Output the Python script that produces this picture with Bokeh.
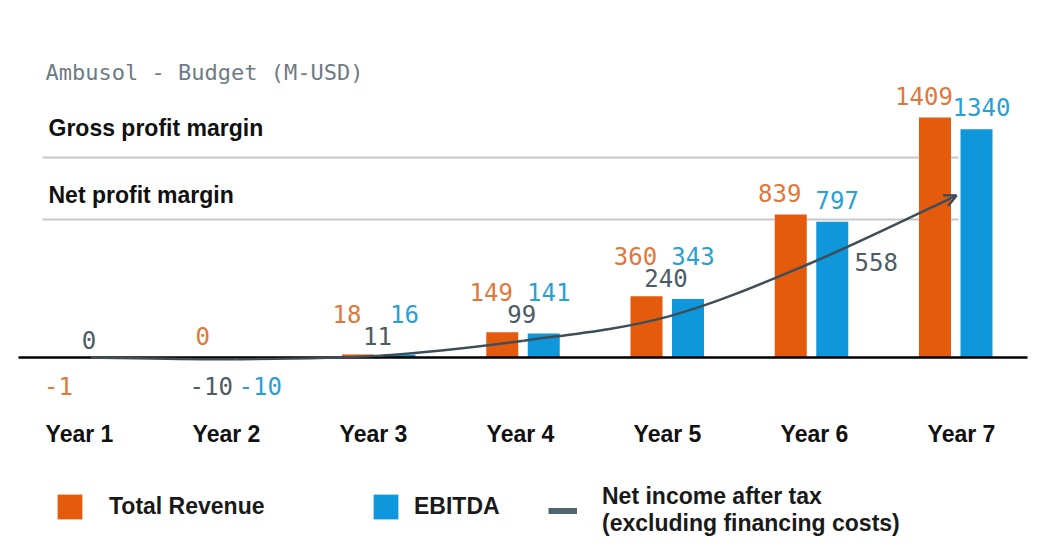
import numpy as np
from bokeh.plotting import figure
from bokeh.models import Range1d, ColumnDataSource, Legend, LegendItem, Arrow, OpenHead
from bokeh.core.properties import value
from bokeh.embed import file_html
from bokeh.resources import INLINE

# ---------------- data ----------------
years = ["Year 1", "Year 2", "Year 3", "Year 4", "Year 5", "Year 6", "Year 7"]
revenue = [-1, 0, 18, 149, 360, 839, 1409]
ebitda = [np.nan, -10, 16, 141, 343, 797, 1340]
net_income = [0, -10, 11, 99, 240, 558, 951]
net_labelled = [True, True, True, True, True, True, False]
net_label_side = ["above", "below", "above", "above", "above", "right", "none"]

title_text = "Ambusol - Budget (M-USD)"
band_labels = ["Gross profit margin", "Net profit margin"]
legend_labels = ["Total Revenue", "EBITDA",
                 "Net income after tax\n(excluding financing costs)"]

# ---------------- style ----------------
ORANGE = "#E55B0E"
BLUE = "#0E97DB"
ORANGE_TXT = "#E2773A"
BLUE_TXT = "#2A9FD6"
GRAY_TXT = "#4D5B66"
CURVE = "#3E4E58"
DASH = "#4F6570"
TITLE = "#6E7B85"
BAND = "#C8C8C8"
MONO = "DejaVu Sans Mono"
SANS = "Liberation Sans"

W, H = 1032, 541
GX = 144.25   # px per year group
X0 = 90.5     # px (from left) of first group centre
ZY = 357.0    # px (from top) of the zero line
SY = 0.1703   # px per M-USD


def xd(px):
    return (px - X0) / GX


def yd(py):
    return (ZY - py) / SY


def dxd(px):
    return px / GX


p = figure(width=W, height=H, x_range=Range1d(xd(0), xd(W)),
           y_range=Range1d(yd(H), yd(0)), output_backend="svg",
           toolbar_location=None, x_axis_location=None, y_axis_location=None,
           min_border=0, outline_line_color=None,
           background_fill_color="white", border_fill_color="white")
p.grid.visible = False

idx = np.arange(len(years), dtype=float)
BW = dxd(32)
OFF_R = -21.5
OFF_E = 20.0

# band lines + texts
p.segment(x0=[xd(42)] * 2, x1=[xd(958)] * 2, y0=[yd(157), yd(219)],
          y1=[yd(157), yd(219)], line_color=BAND, line_width=2)
p.text(x=[xd(48)] * 2, y=[yd(127), yd(194)], text=band_labels,
       text_font=value(SANS), text_font_style="bold", text_font_size="23px",
       text_color="#111111", text_align="left", text_baseline="middle")

# title
p.text(x=[xd(45)], y=[yd(72)], text=[title_text], text_font=value(MONO),
       text_font_size="22px", text_color=TITLE, text_align="left",
       text_baseline="middle")

# bars
r_rev = p.vbar(x=idx + dxd(OFF_R), top=revenue, bottom=0, width=BW,
               fill_color=ORANGE, line_color=None)
r_ebi = p.vbar(x=idx + dxd(OFF_E), top=ebitda, bottom=0, width=BW,
               fill_color=BLUE, line_color=None)

# zero line
p.segment(x0=[xd(18)], x1=[xd(1027)], y0=[0], y1=[0], line_color="black",
          line_width=2.5)

# net income smooth curve (Catmull-Rom -> bezier)
nx = idx
ny = np.array(net_income, dtype=float)
n = len(nx)
bx0, by0, bx1, by1, cx0, cy0, cx1, cy1 = ([] for _ in range(8))
for i in range(n - 1):
    a = max(i - 1, 0)
    d = min(i + 2, n - 1)
    bx0.append(nx[i]); by0.append(ny[i])
    bx1.append(nx[i + 1]); by1.append(ny[i + 1])
    cx0.append(nx[i] + (nx[i + 1] - nx[a]) / 6)
    cy0.append(ny[i] + (ny[i + 1] - ny[a]) / 6)
    cx1.append(nx[i + 1] - (nx[d] - nx[i]) / 6)
    cy1.append(ny[i + 1] - (ny[d] - ny[i]) / 6)
p.bezier(x0=bx0, y0=by0, x1=bx1, y1=by1, cx0=cx0, cy0=cy0, cx1=cx1, cy1=cy1,
         line_color=CURVE, line_width=2.5)
p.add_layout(Arrow(end=OpenHead(size=12, line_color=CURVE, line_width=2.5),
                   x_start=cx1[-1], y_start=cy1[-1], x_end=nx[-1], y_end=ny[-1],
                   line_color=None))

# value labels
lx, ly, lt, lc = [], [], [], []
for i in range(n):
    c = X0 + GX * i
    r = revenue[i]
    e = ebitda[i]
    v = net_income[i]
    tops = [max(r, 0)]
    if not np.isnan(e):
        tops.append(max(e, 0))
    bar_top = ZY - max(tops) * SY
    side = net_label_side[i]
    net_y = None
    if net_labelled[i]:
        if side == "above":
            net_y = bar_top - 18
            lx.append(c - 2)
        elif side == "below":
            net_y = ZY + 28
            lx.append(c - 24)
        else:
            net_y = ZY - v * SY
            lx.append(c + 64)
        ly.append(net_y); lt.append(str(v)); lc.append(GRAY_TXT)
    for val, off, col in ((r, OFF_R - 11, ORANGE_TXT), (e, OFF_E + 5, BLUE_TXT)):
        if np.isnan(val):
            continue
        if val < 0:
            y = ZY + 28
        elif side == "above":
            y = net_y - 22
        else:
            y = ZY - val * SY - 22
        lx.append(c + off); ly.append(y); lt.append(str(int(val))); lc.append(col)

src = ColumnDataSource(dict(x=[xd(v) for v in lx], y=[yd(v) for v in ly],
                            text=lt, color=lc))
p.text(x="x", y="y", text="text", text_color="color", source=src,
       text_font=value(MONO), text_font_size="24px", text_align="center",
       text_baseline="middle")

# year labels
yl_x = [xd(X0 + GX * i - 11.5 + 2.75 * i) for i in range(n)]
p.text(x=yl_x, y=[yd(433)] * n, text=years, text_font=value(SANS),
       text_font_style="bold", text_font_size="23px", text_color="#111111",
       text_align="center", text_baseline="middle")

# legend
r_leg_line = p.line(x=[np.nan, np.nan], y=[np.nan, np.nan], line_color=DASH,
                    line_width=6)


def make_legend(label, rend, loc, gw, gh, standoff):
    leg = Legend(items=[LegendItem(label=label, renderers=[rend])],
                 location=loc, orientation="horizontal", glyph_width=gw,
                 glyph_height=gh, label_standoff=standoff, padding=0,
                 margin=0, spacing=0, border_line_color=None,
                 background_fill_alpha=0, label_text_font=SANS,
                 label_text_font_style="bold", label_text_font_size="23px",
                 label_text_color="#1a1a1a", label_text_line_height=1.15)
    p.add_layout(leg)


make_legend(legend_labels[0], r_rev, (54, 19), 31, 31, 24)
make_legend(legend_labels[1], r_ebi, (370, 19), 31, 31, 13)
make_legend(legend_labels[2], r_leg_line, (548, 4), 29, 31, 25)

open("out.html", "w").write(file_html(p, INLINE))
